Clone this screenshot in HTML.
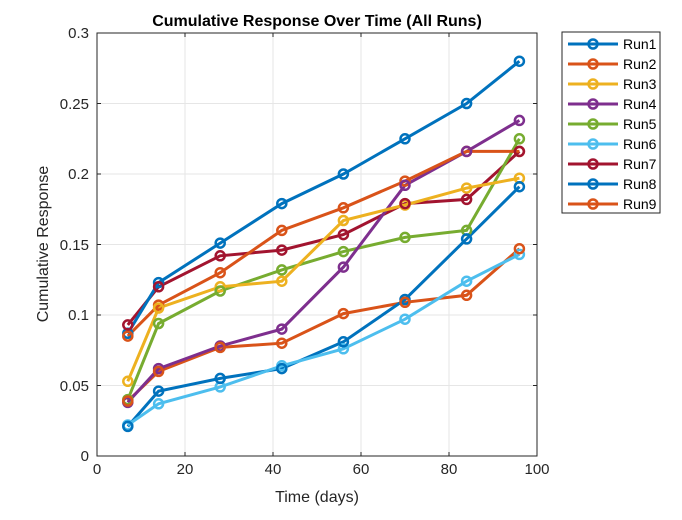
<!DOCTYPE html>
<html><head><meta charset="utf-8"><style>
html,body{margin:0;padding:0;background:#fff;}
svg{display:block;font-family:"Liberation Sans",Arial,sans-serif;}
</style></head><body>
<svg id="s" width="682" height="520" viewBox="0 0 682 520">
<rect width="682" height="520" fill="#fff"/>
<g stroke="#e6e6e6" stroke-width="1">
<line x1="185" y1="33" x2="185" y2="456"/><line x1="273" y1="33" x2="273" y2="456"/>
<line x1="361" y1="33" x2="361" y2="456"/><line x1="449" y1="33" x2="449" y2="456"/>
<line x1="97" y1="385.5" x2="537" y2="385.5"/><line x1="97" y1="315" x2="537" y2="315"/>
<line x1="97" y1="244.5" x2="537" y2="244.5"/><line x1="97" y1="174" x2="537" y2="174"/>
<line x1="97" y1="103.5" x2="537" y2="103.5"/>
</g>
<g id="series"></g>
<rect x="97" y="33" width="440" height="423" fill="none" stroke="#262626" stroke-width="1"/>
<g stroke="#262626" stroke-width="1">
<line x1="185" y1="456" x2="185" y2="452"/><line x1="273" y1="456" x2="273" y2="452"/><line x1="361" y1="456" x2="361" y2="452"/><line x1="449" y1="456" x2="449" y2="452"/>
<line x1="185" y1="33" x2="185" y2="37"/><line x1="273" y1="33" x2="273" y2="37"/><line x1="361" y1="33" x2="361" y2="37"/><line x1="449" y1="33" x2="449" y2="37"/>
<line x1="97" y1="385.5" x2="101" y2="385.5"/><line x1="97" y1="315" x2="101" y2="315"/><line x1="97" y1="244.5" x2="101" y2="244.5"/><line x1="97" y1="174" x2="101" y2="174"/><line x1="97" y1="103.5" x2="101" y2="103.5"/>
<line x1="537" y1="385.5" x2="533" y2="385.5"/><line x1="537" y1="315" x2="533" y2="315"/><line x1="537" y1="244.5" x2="533" y2="244.5"/><line x1="537" y1="174" x2="533" y2="174"/><line x1="537" y1="103.5" x2="533" y2="103.5"/>
</g>
<g font-size="15" fill="#262626" text-anchor="middle">
<text x="97" y="474">0</text><text x="185" y="474">20</text><text x="273" y="474">40</text><text x="361" y="474">60</text><text x="449" y="474">80</text><text x="537" y="474">100</text>
</g>
<g font-size="15" fill="#262626" text-anchor="end">
<text x="89" y="461">0</text><text x="89" y="391">0.05</text><text x="89" y="320">0.1</text><text x="89" y="250">0.15</text><text x="89" y="179">0.2</text><text x="89" y="109">0.25</text><text x="89" y="38">0.3</text>
</g>
<text x="317" y="502" font-size="16" fill="#262626" text-anchor="middle">Time (days)</text>
<text transform="translate(48,244) rotate(-90)" font-size="16" fill="#262626" text-anchor="middle">Cumulative Response</text>
<text x="317" y="26" font-size="16" font-weight="bold" fill="#000" text-anchor="middle">Cumulative Response Over Time (All Runs)</text>
<rect x="562" y="32" width="98" height="181" fill="#fff" stroke="#262626" stroke-width="1"/>
<g id="leg"></g>
<g font-size="14" fill="#000">
<text x="623" y="49">Run1</text><text x="623" y="69">Run2</text><text x="623" y="89">Run3</text>
<text x="623" y="109">Run4</text><text x="623" y="129">Run5</text><text x="623" y="149">Run6</text>
<text x="623" y="169">Run7</text><text x="623" y="189">Run8</text><text x="623" y="209">Run9</text>
</g>
</svg>
<script>
var cols=["#0072BD","#D95319","#EDB120","#7E2F8E","#77AC30","#4DBEEE","#A2142F","#0072BD","#D95319"];
var d=[[.087,.123,.151,.179,.200,.225,.250,.280],
[.085,.107,.130,.160,.176,.195,.216,.216],
[.053,.105,.120,.124,.167,.178,.190,.197],
[.038,.062,.078,.090,.134,.192,.216,.238],
[.040,.094,.117,.132,.145,.155,.160,.225],
[.022,.037,.049,.064,.076,.097,.124,.143],
[.093,.120,.142,.146,.157,.179,.182,.216],
[.021,.046,.055,.062,.081,.111,.154,.191],
[.039,.060,.077,.080,.101,.109,.114,.147]];
var days=[7,14,28,42,56,70,84,96];
var g=document.getElementById("series"),L=document.getElementById("leg"),h="",l="";
for(var i=0;i<9;i++){var pts=[];for(var j=0;j<8;j++){var x=97+4.4*days[j],y=456-d[i][j]*1410;pts.push(x.toFixed(1)+","+y.toFixed(1));
h+='<circle cx="'+x.toFixed(1)+'" cy="'+y.toFixed(1)+'" r="4.5" fill="none" stroke="'+cols[i]+'" stroke-width="2.5"/>';}
h='<polyline points="'+pts.join(" ")+'" fill="none" stroke="'+cols[i]+'" stroke-width="3"/>'+h;
var ly=44+20*i;l+='<line x1="568" y1="'+ly+'" x2="618" y2="'+ly+'" stroke="'+cols[i]+'" stroke-width="3"/><circle cx="593" cy="'+ly+'" r="4.5" fill="none" stroke="'+cols[i]+'" stroke-width="2.5"/>';}
g.innerHTML=h;L.innerHTML=l;
</script>
</body></html>
